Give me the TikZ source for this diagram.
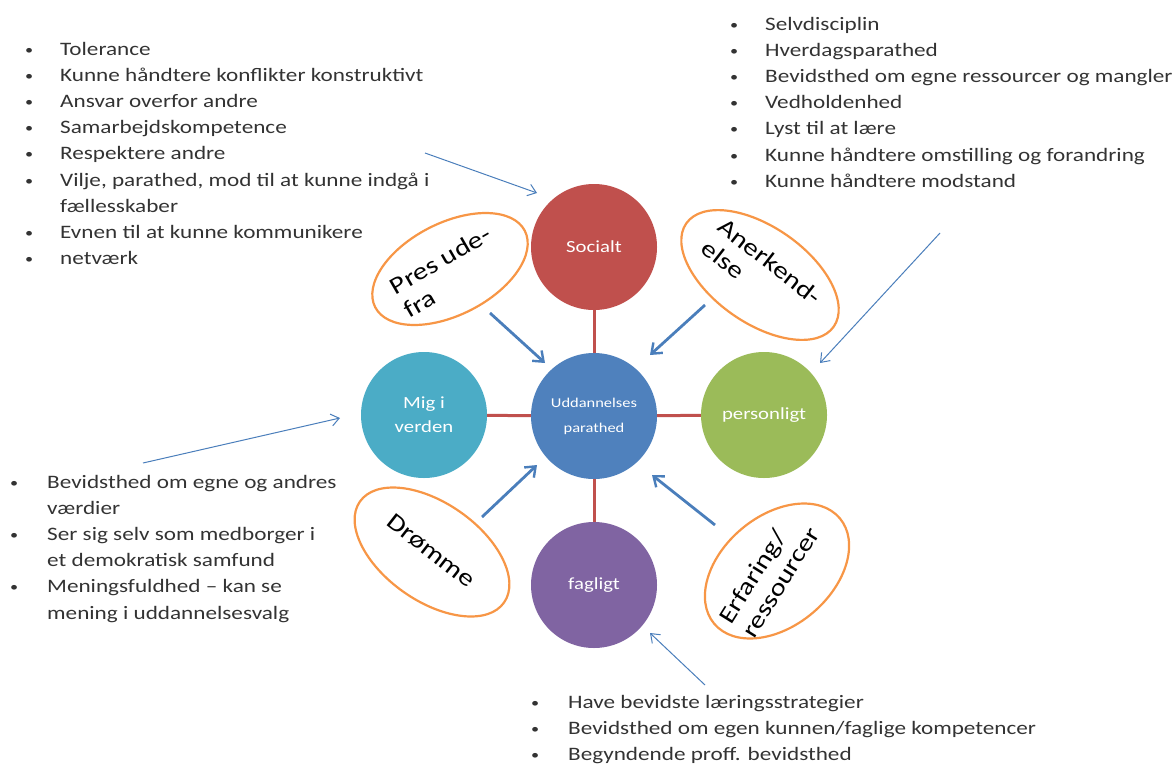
\documentclass[tikz,border=0pt]{standalone}
\usepackage{fontspec}
\setmainfont{Carlito}[FakeStretch=1.22]
\usetikzlibrary{arrows.meta}
\definecolor{cRed}{HTML}{C0504D}
\definecolor{cBlue}{HTML}{4F81BD}
\definecolor{cTeal}{HTML}{4BACC6}
\definecolor{cGreen}{HTML}{9BBB59}
\definecolor{cPurple}{HTML}{8064A2}
\definecolor{cOrange}{HTML}{F79646}
\definecolor{cArrow}{HTML}{4A7EBB}
\definecolor{cText}{HTML}{333333}
\tikzset{
  bigcirc/.style={circle, minimum size=126pt, inner sep=0pt, text=white, align=center, font=\fontsize{17}{24}\selectfont},
  oval/.style={draw=cOrange, line width=2.2pt, fill=white},
  ovaltext/.style={font=\fontsize{24}{27}\selectfont, align=left, text=black},
  link/.style={cRed, line width=3pt},
  thick arrow/.style={cArrow, line width=2.8pt, -{Straight Barb[length=9pt,width=14pt,line width=2.4pt]}},
  thin arrow/.style={cArrow, line width=1pt, -{Straight Barb[length=8pt,width=12pt,line width=1pt]}},
  list/.style={anchor=base west, inner sep=0pt, text=cText, font=\fontsize{19}{26.2}\selectfont},
}
\newcommand{\bul}{\raisebox{1pt}{\scalebox{0.7}{\textbullet}}}
\begin{document}
\begin{tikzpicture}[x=1pt,y=-1pt]
\useasboundingbox (0,0) rectangle (1174,763);

% circles
\node[bigcirc, fill=cRed] (soc) at (594,247) {Socialt};
\node[bigcirc, fill=cBlue, font=\fontsize{13.5}{25}\selectfont] (udd) at (594,416) {Uddannelses\\parathed};
\node[bigcirc, fill=cTeal] (mig) at (424,415) {Mig i\\verden};
\node[bigcirc, fill=cGreen] (per) at (764,415) {personligt};
\node[bigcirc, fill=cPurple] (fag) at (594,585) {fagligt};

\draw[link] (soc) -- (udd);
\draw[link] (mig) -- (udd);
\draw[link] (per) -- (udd);
\draw[link] (fag) -- (udd);

% ellipses
\path[oval, rotate around={27:(450,269)}] (450,269) ellipse (84 and 46);
\node[ovaltext, rotate=30] (pres) at (447,272) {Pres ude-\\fra};
\path[oval, rotate around={-35:(760,275)}] (760,275) ellipse (90 and 48);
\node[ovaltext, rotate=-38] (aner) at (762,272) {Anerkend-\\else};
\path[oval, rotate around={-35:(432,552)}] (432,552) ellipse (88 and 49);
\node[ovaltext, rotate=-38] (drom) at (431,551) {Drømme};
\path[oval, rotate around={40:(777,571)}] (777,571) ellipse (82 and 55);
\node[ovaltext, rotate=58] (erf) at (769,575) {Erfaring/\\ressourcer};

\coordinate (pa) at (490,313);
\coordinate (aa) at (705,305);
\coordinate (da) at (482,517);
\coordinate (ea) at (715,525);
\draw[thick arrow] (pa) -- (545,363);
\draw[thick arrow] (aa) -- (650,355);
\draw[thick arrow] (da) -- (537,465);
\draw[thick arrow] (ea) -- (652,475);

% thin arrows
\coordinate (t1) at (425,153);
\coordinate (t2) at (940,233);
\coordinate (t3) at (143,463);
\coordinate (t4) at (705,685);
\draw[thin arrow] (t1) -- (537,193);
\draw[thin arrow] (t2) -- (820,363);
\draw[thin arrow] (t3) -- (340,418);
\draw[thin arrow] (t4) -- (650,633);

% lists
\node[list] (l1) at (25,55) {\begin{tabular}[t]{@{}p{35pt}@{}l@{}}
\bul & Tolerance\\
\bul & Kunne håndtere konflikter konstruktivt\\
\bul & Ansvar overfor andre\\
\bul & Samarbejdskompetence\\
\bul & Respektere andre\\
\bul & Vilje, parathed, mod til at kunne indgå i\\
 & fællesskaber\\
\bul & Evnen til at kunne kommunikere\\
\bul & netværk
\end{tabular}};

\node[list] (l2) at (730,30) {\begin{tabular}[t]{@{}p{35pt}@{}l@{}}
\bul & Selvdisciplin\\
\bul & Hverdagsparathed\\
\bul & Bevidsthed om egne ressourcer og mangler\\
\bul & Vedholdenhed\\
\bul & Lyst til at lære\\
\bul & Kunne håndtere omstilling og forandring\\
\bul & Kunne håndtere modstand
\end{tabular}};

\node[list] (l3) at (10,488) {\begin{tabular}[t]{@{}p{37pt}@{}l@{}}
\bul & Bevidsthed om egne og andres\\
 & værdier\\
\bul & Ser sig selv som medborger i\\
 & et demokratisk samfund\\
\bul & Meningsfuldhed -- kan se\\
 & mening i uddannelsesvalg
\end{tabular}};

\node[list] (l4) at (531,708) {\begin{tabular}[t]{@{}p{37pt}@{}l@{}}
\bul & Have bevidste læringsstrategier\\
\bul & Bevidsthed om egen kunnen/faglige kompetencer\\
\bul & Begyndende proff. bevidsthed
\end{tabular}};
\end{tikzpicture}
\end{document}
